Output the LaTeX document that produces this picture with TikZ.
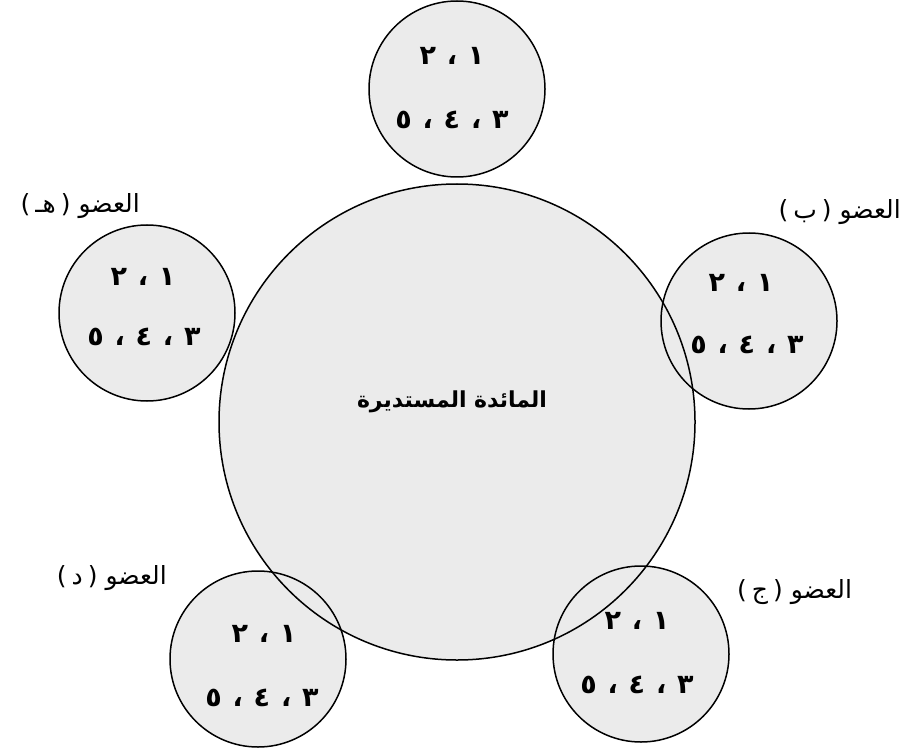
\documentclass[tikz,border=0pt]{standalone}
\usepackage{fontspec}
\newfontfamily\arabicfont[Script=Arabic]{DejaVu Sans}
\TeXXeTstate=1
\usetikzlibrary{backgrounds}
\newcommand{\rowonetwo}{\beginR ١\hspace{0.4em}،\hspace{0.4em}٢\endR}
\newcommand{\rowthreefive}{\beginR ٣\hspace{0.4em}،\hspace{0.4em}٤\hspace{0.4em}،\hspace{0.4em}٥\endR}
\tikzset{
  ring/.style={circle, draw=black, line width=1.5pt, inner sep=0pt},
  seat/.style={ring, minimum size=176pt},
  bigtable/.style={ring, minimum size=476pt},
  stipple/.style={fill=black!8},
  digits/.style={font=\arabicfont\bfseries\fontsize{27}{27}\selectfont, inner sep=0pt},
  member/.style={font=\arabicfont\fontsize{25}{25}\selectfont, inner sep=0pt},
  titletext/.style={font=\arabicfont\bfseries\fontsize{22}{22}\selectfont, inner sep=0pt},
}
\begin{document}
\begin{tikzpicture}[x=1pt,y=-1pt]
\useasboundingbox (0,0) rectangle (901,751);
% circles
\node[bigtable] (T) at (457,422) {};
\node[seat] (sA) at (457,89) {};
\node[seat] (sB) at (749,321) {};
\node[seat] (sH) at (147,313) {};
\node[seat] (sD) at (258,659) {};
\node[seat] (sJ) at (641,654) {};
\begin{scope}[on background layer]
  \fill[stipple] (T.center) circle[radius=238pt];
  \foreach \n in {sA,sB,sH,sD,sJ} \fill[stipple] (\n.center) circle[radius=88pt];
\end{scope}
% centre title
\node[titletext] (title) at (452,402) {\beginR المائدة المستديرة\endR};
% numbers
\node[digits] (a1) at (452,56) {\rowonetwo};
\node[digits] (a2) at (452,120) {\rowthreefive};
\node[digits] (b1) at (741,283) {\rowonetwo};
\node[digits] (b2) at (747,345) {\rowthreefive};
\node[digits] (h1) at (143,277) {\rowonetwo};
\node[digits] (h2) at (144,337) {\rowthreefive};
\node[digits] (d1) at (264,634) {\rowonetwo};
\node[digits] (d2) at (262,698) {\rowthreefive};
\node[digits] (j1) at (637,621) {\rowonetwo};
\node[digits] (j2) at (637,685) {\rowthreefive};
% member labels
\node[member, anchor=east] (lH) at (140,206) {\beginR العضو \beginL)\hspace{0.2em}هـ\hspace{0.2em}(\endL\endR};
\node[member, anchor=east] (lB) at (901,212) {\beginR العضو \beginL)\hspace{0.2em}ب\hspace{0.2em}(\endL\endR};
\node[member, anchor=east] (lD) at (167,578) {\beginR العضو \beginL)\hspace{0.2em}د\hspace{0.2em}(\endL\endR};
\node[member, anchor=west] (lJ) at (737,592) {\beginR العضو \beginL)\hspace{0.2em}ج\hspace{0.2em}(\endL\endR};
\end{tikzpicture}
\end{document}
